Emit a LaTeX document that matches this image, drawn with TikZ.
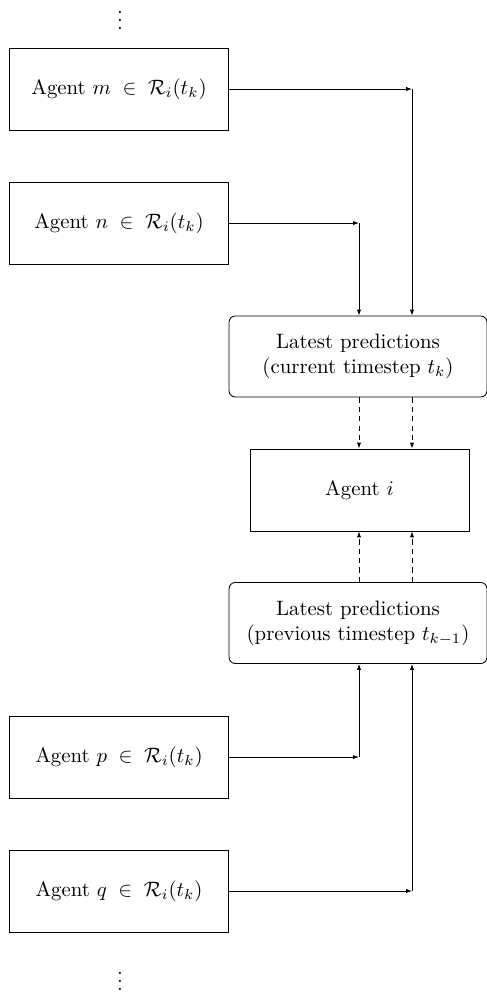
\documentclass[tikz,border=0pt]{standalone}
\usetikzlibrary{arrows.meta}
\begin{document}
\begin{tikzpicture}[x=0.48pt,y=-0.48pt,
  agentbox/.style={draw,line width=0.4pt,minimum width=105.1pt,minimum height=39.4pt,inner sep=0pt},
  predbox/.style={draw,line width=0.4pt,rounded corners=3pt,minimum width=123.8pt,minimum height=38.9pt,inner sep=0pt,align=center},
  dotsnode/.style={inner sep=0pt},
  link/.style={line width=0.4pt,-{Latex[length=2.8pt,width=2pt]}},
  dlink/.style={link,dash pattern=on 2.5pt off 2pt}]
\useasboundingbox (0,0) rectangle (487,992);
\node[dotsnode] (dtop) at (120,14) {$\vdots$};
\node[agentbox] (m) at (119,89) {Agent $m \;\in\; \mathcal{R}_i(t_k)$};
\node[agentbox] (n) at (119,223) {Agent $n \;\in\; \mathcal{R}_i(t_k)$};
\node[predbox] (cur) at (358,356.5) {Latest predictions\\(current timestep $t_k$)};
\node[agentbox] (ai) at (359.5,490) {Agent $i$};
\node[predbox] (prev) at (358,623) {Latest predictions\\(previous timestep $t_{k-1}$)};
\node[agentbox] (p) at (119,757) {Agent $p \;\in\; \mathcal{R}_i(t_k)$};
\node[agentbox] (q) at (119,891) {Agent $q \;\in\; \mathcal{R}_i(t_k)$};
\node[dotsnode] (dbot) at (120,975) {$\vdots$};
\coordinate (cm) at (412,89);
\coordinate (cn) at (359,223);
\coordinate (cp) at (359,757);
\coordinate (cq) at (412,891);
\draw[link] (m.east) -- (cm);
\draw[link] (cm) -- (cm |- cur.north);
\draw[link] (n.east) -- (cn);
\draw[link] (cn) -- (cn |- cur.north);
\draw[link] (p.east) -- (cp);
\draw[link] (cp) -- (cp |- prev.south);
\draw[link] (q.east) -- (cq);
\draw[link] (cq) -- (cq |- prev.south);
\draw[dlink] (cn |- cur.south) -- (cn |- ai.north);
\draw[dlink] (cm |- cur.south) -- (cm |- ai.north);
\draw[dlink] (cn |- prev.north) -- (cn |- ai.south);
\draw[dlink] (cm |- prev.north) -- (cm |- ai.south);
\end{tikzpicture}
\end{document}
